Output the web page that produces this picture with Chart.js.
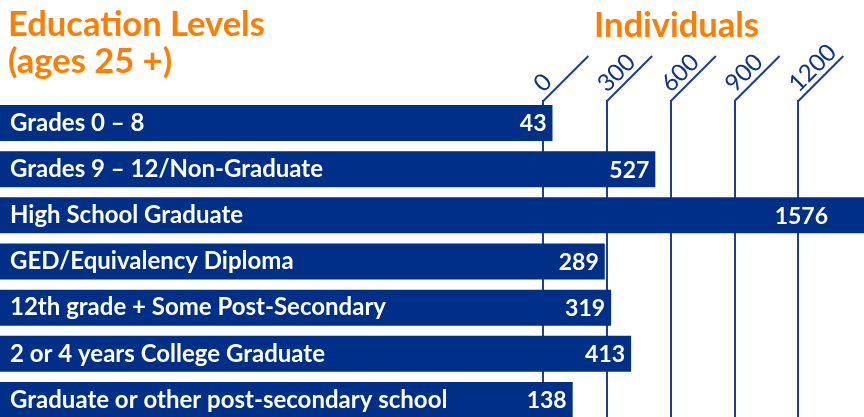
<!DOCTYPE html>
<html>
<head>
<meta charset="utf-8">
<script src="https://cdn.jsdelivr.net/npm/chart.js@4.4.1/dist/chart.umd.min.js"></script>
<style>
  html, body { margin: 0; padding: 0; background: #ffffff; overflow: hidden; }
  canvas { display: block; }
</style>
</head>
<body>
<canvas id="c" width="864" height="423"></canvas>
<script>
const categories = [
  "Grades 0 \u2013 8",
  "Grades 9 \u2013 12/Non-Graduate",
  "High School Graduate",
  "GED/Equivalency Diploma",
  "12th grade + Some Post-Secondary",
  "2 or 4 years College Graduate",
  "Graduate or other post-secondary school"
];
const individuals = [43, 527, 1576, 289, 319, 413, 138];
const tickValues = [0, 300, 600, 900, 1200];
const titleLines = ["Education Levels", "(ages 25 +)"];
const axisTitle = "Individuals";

const X_MIN = -2557;
const X_MAX = 1509;

const BAR = '#002f87';
const GRID = '#1d3f93';
const ORANGE = '#ff7d00';
const FONT = 'Lato, "Open Sans", sans-serif';

const decoPlugin = {
  id: 'deco',
  beforeDatasetsDraw(chart) {
    const ctx = chart.ctx;
    const xs = chart.scales.x;
    const top = chart.chartArea.top;
    ctx.save();
    ctx.strokeStyle = GRID;
    ctx.lineWidth = 2;
    xs.ticks.forEach(t => {
      const px = xs.getPixelForValue(t.value);
      ctx.beginPath();
      ctx.moveTo(px, top + 1);
      ctx.lineTo(px + 45, top - 44);
      ctx.stroke();
    });
    ctx.restore();
  },
  afterDatasetsDraw(chart) {
    const ctx = chart.ctx;
    const area = chart.chartArea;
    const meta = chart.getDatasetMeta(0);
    ctx.save();
    ctx.fillStyle = '#ffffff';
    ctx.font = 'bold 23px ' + FONT;
    ctx.textAlign = 'right';
    ctx.textBaseline = 'middle';
    meta.data.forEach((el, i) => {
      const x = Math.min(el.x, area.right - 30) - 6;
      ctx.fillText(String(chart.data.datasets[0].data[i]), x, el.y + 1);
    });
    ctx.restore();
  },
  afterDraw(chart) {
    const ctx = chart.ctx;
    ctx.save();
    ctx.fillStyle = ORANGE;
    ctx.font = 'bold 34.5px ' + FONT;
    ctx.textAlign = 'left';
    ctx.textBaseline = 'alphabetic';
    ctx.fillText(titleLines[0], 8, 36);
    ctx.fillText(titleLines[1], 8, 73);
    ctx.fillText(axisTitle, 594, 37);
    ctx.restore();
  }
};

new Chart(document.getElementById('c'), {
  type: 'bar',
  data: {
    labels: categories,
    datasets: [{
      data: individuals,
      base: X_MIN,
      backgroundColor: BAR,
      borderWidth: 0,
      barPercentage: 0.78,
      categoryPercentage: 1.0
    }]
  },
  options: {
    indexAxis: 'y',
    responsive: false,
    maintainAspectRatio: false,
    animation: false,
    layout: { padding: 0 },
    plugins: { legend: { display: false }, tooltip: { enabled: false }, title: { display: false } },
    scales: {
      x: {
        type: 'linear',
        position: 'top',
        min: X_MIN,
        max: X_MAX,
        afterBuildTicks(scale) { scale.ticks = tickValues.map(v => ({ value: v })); },
        afterFit(scale) {
          scale.height = 100;
          scale.paddingLeft = 0; scale.paddingRight = 0;
        },
        grid: { color: GRID, lineWidth: 2, drawTicks: false },
        border: { display: false },
        ticks: {
          minRotation: 45,
          maxRotation: 45,
          padding: 2,
          labelOffset: 15,
          color: '#0b3387',
          font: { family: FONT, size: 24, lineHeight: 1.2 },
          autoSkip: false,
          callback: (v) => String(v)
        }
      },
      y: {
        type: 'category',
        position: 'left',
        afterFit(scale) {
          scale.width = 0;
          scale.paddingTop = 0; scale.paddingBottom = 0;
        },
        grid: { display: false, drawTicks: false },
        border: { display: false },
        ticks: {
          mirror: true,
          z: 1,
          padding: 10,
          color: '#ffffff',
          autoSkip: false,
          font: { family: FONT, size: 24, weight: 'bold' }
        }
      }
    }
  },
  plugins: [decoPlugin]
});
</script>
</body>
</html>
